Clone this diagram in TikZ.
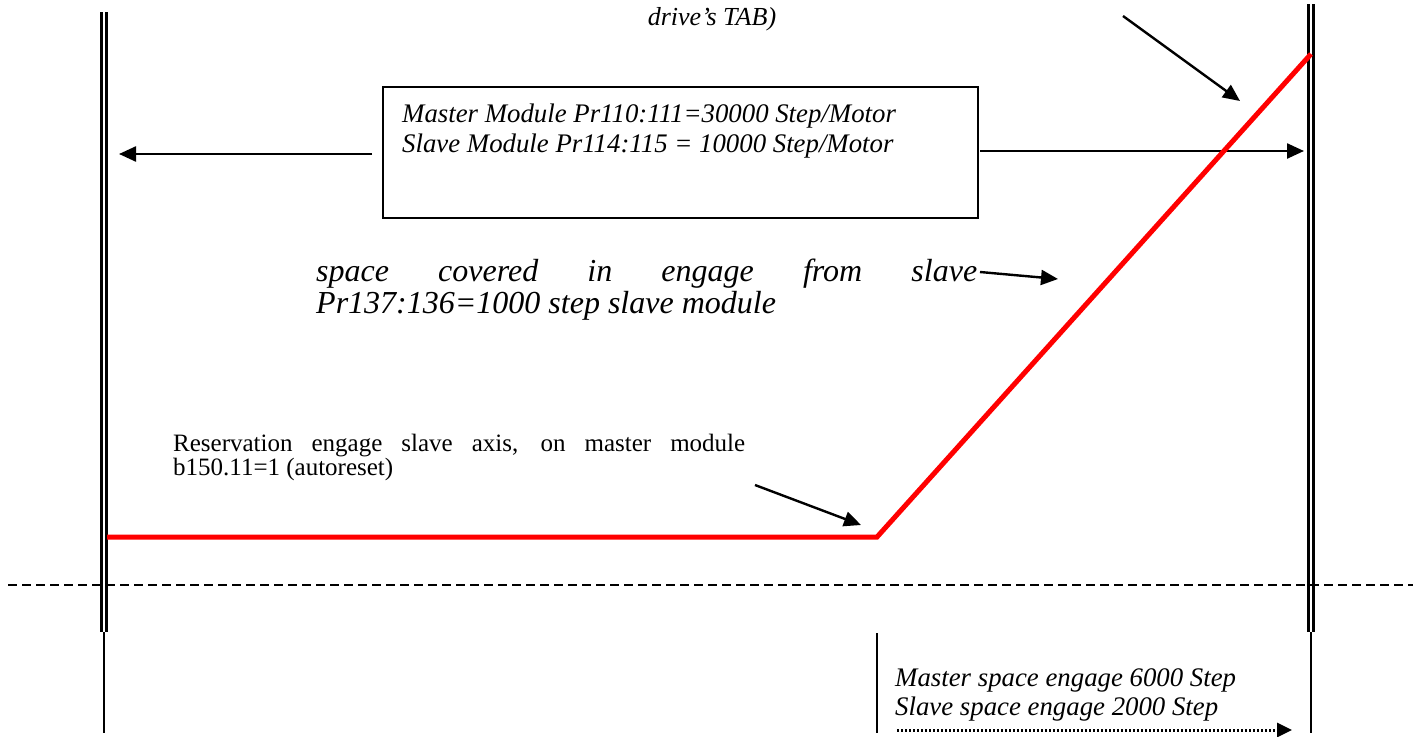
\documentclass[tikz,border=0pt]{standalone}
\usepackage{fontspec}
\setmainfont{Liberation Serif}
\usetikzlibrary{arrows.meta}
\tikzset{
  x=1pt,y=-1pt,
  rail/.style={line width=2.2pt,black},
  thinrail/.style={line width=1.7pt,black},
  pointer/.style={line width=2.4pt,black,-{Triangle[length=17pt,width=15pt]}},
  curve/.style={line width=5pt,red,line join=miter},
  txt/.style={inner sep=0pt,anchor=base west,font=\fontsize{25}{28}\selectfont},
  itxt/.style={inner sep=0pt,anchor=base west,font=\fontsize{26.8}{30}\selectfont\itshape},
  bigtxt/.style={inner sep=0pt,anchor=base west,font=\fontsize{32}{36}\selectfont\itshape},
  frame/.style={draw,line width=1.8pt},
}
\begin{document}
\begin{tikzpicture}
\useasboundingbox (0,0) rectangle (1413,736);
% top text
\node[inner sep=0pt,anchor=base,font=\fontsize{26}{30}\selectfont\itshape] (top) at (712,25) {drive’s TAB)};
% left rail
\draw[rail] (101.5,12) -- (101.5,632);
\draw[rail] (106.5,12) -- (106.5,632);
\draw[thinrail] (104,632) -- (104,733);
% right rail
\draw[rail] (1308.5,4) -- (1308.5,632);
\draw[rail] (1313.5,4) -- (1313.5,632);
\draw[thinrail] (1311,632) -- (1311,733);
% dashed line
\coordinate (dl) at (8,585);
\coordinate (dr) at (1413,585);
\draw[line width=1.7pt,dash pattern=on 9pt off 5pt] (dl) -- (dr);
% box
\node[frame,minimum width=595pt,minimum height=131pt,inner sep=0pt] (box) at (680.5,152.5) {};
\node[itxt] (m1) at (402,122) {Master Module Pr110:111=30000 Step/Motor};
\node[itxt] (m2) at (402,152) {Slave Module Pr114:115 = 10000 Step/Motor};
\coordinate (la) at (372,154);
\coordinate (lb) at (119,154);
\coordinate (ra) at (980,151);
\coordinate (rb) at (1304,151);
\draw[pointer] (la) -- (lb);
\draw[pointer] (ra) -- (rb);
% red curve
\coordinate (c0) at (107,537);
\coordinate (c1) at (877,537);
\coordinate (c2) at (1311,54);
\draw[curve] (c0) -- (c1) -- (c2);
% diagonal arrow top
\coordinate (da) at (1123,16);
\coordinate (db) at (1240,101);
\draw[pointer] (da) -- (db);
% space covered text
\node[bigtxt] (s1) at (316,281) {\makebox[661pt][s]{space covered in engage from slave}};
\node[bigtxt] (s2) at (316,313) {Pr137:136=1000 step slave module};
\coordinate (sa) at (980,272);
\coordinate (sb) at (1058,279);
\draw[pointer] (sa) -- (sb);
% reservation text
\node[txt] (r1) at (173,451) {\makebox[572pt][s]{Reservation engage slave axis, on master module}};
\node[txt] (r2) at (173,475) {b150.11=1 (autoreset)};
\coordinate (pa) at (755,485);
\coordinate (pb) at (861,525);
\draw[pointer] (pa) -- (pb);
% bottom
\draw[thinrail] (877,633) -- (877,733);
\node[itxt] (b1) at (895,686) {Master space engage 6000 Step};
\node[itxt] (b2) at (895,715) {Slave space engage 2000 Step};
\coordinate (ea) at (897,730);
\coordinate (eb) at (1292,730);
\draw[line width=3pt,dash pattern=on 2.2pt off 1.8pt,-{Triangle[length=15pt,width=14pt]}] (ea) -- (eb);
\end{tikzpicture}
\end{document}
